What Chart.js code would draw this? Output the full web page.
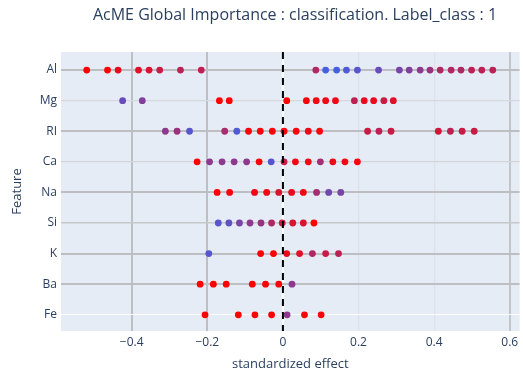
<!DOCTYPE html>
<html>
<head>
<meta charset="utf-8">
<script src="https://cdn.jsdelivr.net/npm/chart.js@4"></script>
<style>
  body { margin: 0; background: #fff; }
  #wrap { width: 523px; height: 379px; }
</style>
</head>
<body>
<div id="wrap"><canvas id="chart" width="523" height="379"></canvas></div>
<script>
// features, top to bottom
const features = ['Al', 'Mg', 'RI', 'Ca', 'Na', 'Si', 'K', 'Ba', 'Fe'];

// standardized effect per feature, and colour position (0 = red, 1 = blue)
const alEffect = [-0.519, -0.464, -0.436, -0.382, -0.354, -0.326, -0.271, -0.216,
  0.087, 0.113, 0.142, 0.168, 0.197, 0.253, 0.308, 0.334, 0.363, 0.389, 0.416, 0.445, 0.471, 0.499, 0.526, 0.555];
const alShade = [0, 0, 0.15, 0.2, 0.25, 0.35, 0.4, 0.4,
  0.45, 1, 1, 0.95, 0.9, 0.8, 0.7, 0.65, 0.6, 0.55, 0.45, 0.45, 0.45, 0.4, 0.4, 0.4];

const mgEffect = [-0.424, -0.372, -0.168, -0.142, 0.010, 0.062, 0.088, 0.113, 0.139, 0.189, 0.215, 0.240, 0.267, 0.292];
const mgShade = [0.8, 0.65, 0, 0, 0, 0.05, 0.1, 0.1, 0.1, 0.4, 0.15, 0.15, 0.35, 0.2];

const riEffect = [-0.311, -0.280, -0.247, -0.154, -0.122, -0.091, -0.060, -0.028, 0.003,
  0.035, 0.067, 0.097, 0.224, 0.254, 0.286, 0.411, 0.443, 0.474, 0.506];
const riShade = [0.6, 0.55, 0.9, 0.5, 0.95, 0.03, 0.05, 0.05, 0.05,
  0.05, 0.1, 0.05, 0.35, 0.4, 0.35, 0.3, 0.4, 0.35, 0.35];

const caEffect = [-0.227, -0.194, -0.161, -0.129, -0.096, -0.063, -0.031, 0.003, 0.033, 0.067, 0.099, 0.132, 0.164, 0.197];
const caShade = [0, 0.6, 0.6, 0.6, 0.6, 0.05, 0.9, 0.35, 0.1, 0.1, 0.5, 0.1, 0.1, 0.05];

const naEffect = [-0.174, -0.141, -0.075, -0.043, -0.011, 0.023, 0.054, 0.089, 0.121, 0.153];
const naShade = [0, 0.05, 0.1, 0.1, 0.25, 0.15, 0.1, 0.5, 0.75, 0.7];

const siEffect = [-0.171, -0.143, -0.115, -0.087, -0.058, -0.030, -0.002, 0.026, 0.054, 0.082];
const siShade = [0.9, 0.85, 0.7, 0.6, 0.55, 0.45, 0.35, 0.25, 0.25, 0];

const kEffect = [-0.196, -0.059, -0.025, 0.010, 0.044, 0.078, 0.113, 0.147];
const kShade = [0.9, 0, 0, 0.15, 0.2, 0.45, 0.35, 0.4];

const baEffect = [-0.219, -0.184, -0.150, -0.081, -0.046, -0.011, 0.024];
const baShade = [0, 0, 0, 0, 0, 0.05, 0.6];

const feEffect = [-0.206, -0.118, -0.074, -0.030, 0.011, 0.057, 0.101];
const feShade = [0, 0, 0, 0, 0.6, 0.05, 0.05];

const effects = [alEffect, mgEffect, riEffect, caEffect, naEffect, siEffect, kEffect, baEffect, feEffect];
const shades = [alShade, mgShade, riShade, caShade, naShade, siShade, kShade, baShade, feShade];

const xTicks = [-0.4, -0.2, 0, 0.2, 0.4, 0.6];

// gridline look (grey = heavier lines seen in the picture)
const xGridColor = ['#bebfc4', '#bebfc4', '#ffffff', '#dde1e8', '#dde1e8', '#c3c5ca'];
const xGridWidth = [2, 2, 2, 1.3, 1.3, 2];
const yGridColor = ['#bdbec2', '#d6d8dd', '#bdbec2', '#d3d5da', '#bdbec2', '#c6c8cc', '#bdbec2', '#bdbec2', '#ffffff'];
const yGridWidth = [2, 1.2, 2, 1.2, 2, 1.5, 2, 2, 1];

const textColor = '#2a3f5f';
const fontFamily = '"Open Sans", Verdana, sans-serif';

function shadeColor(t) {
    // red -> crimson -> purple -> royal blue
    const stops = [[255, 0, 0], [205, 25, 65], [125, 65, 160], [70, 95, 225]];
    const pos = t * (stops.length - 1);
    const i = Math.min(Math.floor(pos), stops.length - 2);
    const f = pos - i;
    const c = stops[i].map((v, k) => Math.round(v + (stops[i + 1][k] - v) * f));
    return `rgb(${c[0]},${c[1]},${c[2]})`;
}

const datasets = features.map((name, row) => ({
    label: name,
    data: effects[row].map(x => ({ x: x, y: row })),
    pointBackgroundColor: shades[row].map(shadeColor),
    pointBorderWidth: 0,
    pointRadius: 3.4,
    pointHoverRadius: 3.4,
}));

const plotBackground = {
    id: 'plotBackground',
    beforeDraw(chart) {
        const { ctx, chartArea: a } = chart;
        ctx.save();
        ctx.fillStyle = '#e5ecf6';
        ctx.fillRect(a.left, a.top, a.right - a.left, a.bottom - a.top);
        ctx.restore();
    }
};

const zeroLine = {
    id: 'zeroLine',
    afterDatasetsDraw(chart) {
        const { ctx, chartArea: a, scales } = chart;
        const x = scales.x.getPixelForValue(0);
        ctx.save();
        ctx.strokeStyle = '#000';
        ctx.lineWidth = 2;
        ctx.setLineDash([7, 6]);
        ctx.beginPath();
        ctx.moveTo(x, a.top);
        ctx.lineTo(x, a.bottom);
        ctx.stroke();
        ctx.restore();
    }
};

const topTitle = {
    id: 'topTitle',
    afterDraw(chart) {
        const { ctx } = chart;
        ctx.save();
        ctx.fillStyle = textColor;
        ctx.font = `16px ${fontFamily}`;
        ctx.textAlign = 'center';
        ctx.textBaseline = 'middle';
        ctx.fillText('AcME Global Importance : classification. Label_class : 1', 295, 15);
        ctx.restore();
    }
};

new Chart(document.getElementById('chart'), {
    type: 'scatter',
    data: { datasets },
    options: {
        responsive: false,
        devicePixelRatio: 1,
        animation: false,
        layout: { padding: { top: 52, right: 1, left: 0, bottom: 0 } },
        plugins: { legend: { display: false }, tooltip: { enabled: false } },
        scales: {
            x: {
                type: 'linear',
                min: -0.587,
                max: 0.626,
                afterBuildTicks: scale => { scale.ticks = xTicks.map(v => ({ value: v })); },
                afterFit: scale => { scale.height = 48; },
                border: { display: false },
                grid: {
                    drawTicks: false,
                    color: c => xGridColor[c.index],
                    lineWidth: c => xGridWidth[c.index],
                },
                ticks: {
                    padding: 4,
                    color: textColor,
                    font: { family: fontFamily, size: 12 },
                    callback: v => v === 0 ? '0' : (v < 0 ? '\u2212' : '') + Math.abs(v).toFixed(1),
                },
                title: {
                    display: true,
                    text: 'standardized effect',
                    color: textColor,
                    font: { family: fontFamily, size: 13 },
                    padding: { top: 0, bottom: 7 },
                },
            },
            y: {
                type: 'linear',
                reverse: true,
                min: -0.59,
                max: 8.53,
                afterBuildTicks: scale => { scale.ticks = features.map((f, i) => ({ value: i })); },
                afterFit: scale => { scale.width = 61; },
                border: { display: false },
                grid: {
                    drawTicks: false,
                    color: c => yGridColor[c.index],
                    lineWidth: c => yGridWidth[c.index],
                },
                ticks: {
                    padding: 4,
                    color: textColor,
                    font: { family: fontFamily, size: 12 },
                    callback: v => features[v],
                },
                title: {
                    display: true,
                    text: 'Feature',
                    color: textColor,
                    font: { family: fontFamily, size: 13 },
                    padding: { top: 9, bottom: 0 },
                },
            },
        },
    },
    plugins: [plotBackground, zeroLine, topTitle],
});
</script>
</body>
</html>
